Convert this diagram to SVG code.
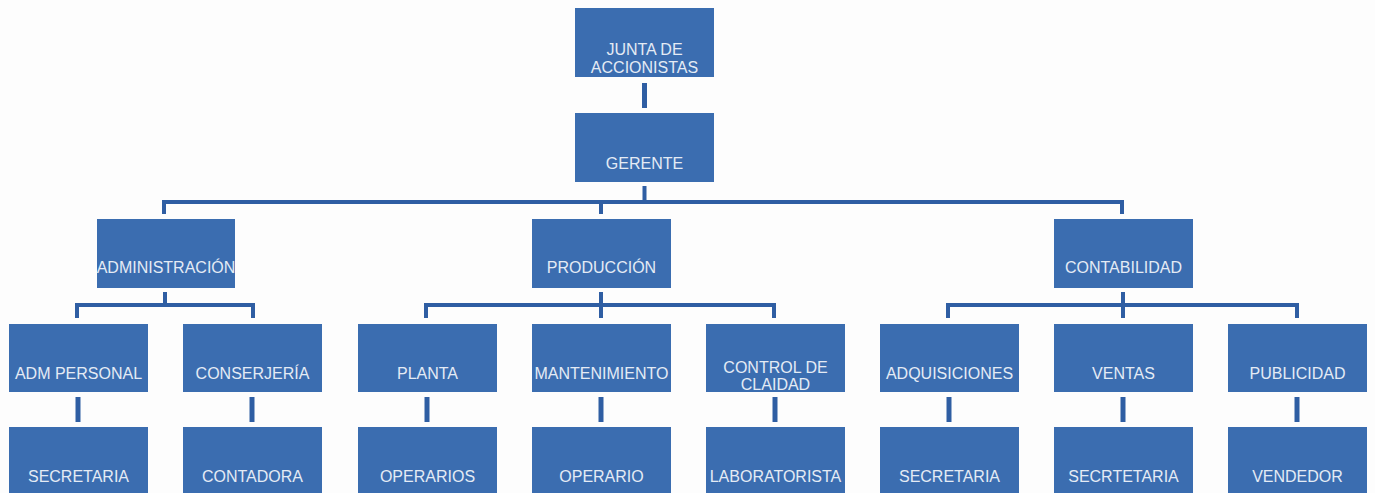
<svg xmlns="http://www.w3.org/2000/svg" width="1375" height="493" viewBox="0 0 1375 493">
<style>
.box{fill:#3b6db0}
.t{font-family:"Liberation Sans",Arial,sans-serif;font-size:16px;fill:#e4ebf5;text-anchor:middle}
.c{stroke:#2f5ea3;fill:none;stroke-width:4;stroke-linecap:butt;stroke-linejoin:miter}
.v{stroke:#2f5ea3;fill:none;stroke-width:5}
</style>
<rect width="1375" height="493" fill="#fdfdfd"/>
<g id="connectors">
<line class="v" x1="644.5" y1="83" x2="644.5" y2="108"/>
<path class="c" d="M644.5 186 V202 M164 214 V202 H1122 V214 M601 202 V214"/>
<path class="c" d="M165 292 V305 M77 318 V305 H253 V318"/>
<path class="c" d="M601 292 V318 M426 318 V305 H774 V318"/>
<path class="c" d="M1123 292 V318 M948 318 V305 H1297 V318"/>
<line class="v" x1="78" y1="397" x2="78" y2="422"/>
<line class="v" x1="252" y1="397" x2="252" y2="422"/>
<line class="v" x1="427" y1="397" x2="427" y2="422"/>
<line class="v" x1="601" y1="397" x2="601" y2="422"/>
<line class="v" x1="775" y1="397" x2="775" y2="422"/>
<line class="v" x1="949" y1="397" x2="949" y2="422"/>
<line class="v" x1="1123" y1="397" x2="1123" y2="422"/>
<line class="v" x1="1297" y1="397" x2="1297" y2="422"/>
</g>
<g id="junta"><rect class="box" x="575" y="8" width="139" height="69"/><text class="t" x="644.5" y="55">JUNTA DE</text><text class="t" x="644.5" y="73">ACCIONISTAS</text></g>
<g id="gerente"><rect class="box" x="575" y="113" width="139" height="69"/><text class="t" x="644.5" y="169">GERENTE</text></g>
<g id="administracion"><rect class="box" x="97" y="219" width="138" height="69"/><text class="t" x="166" y="273">ADMINISTRACIÓN</text></g>
<g id="produccion"><rect class="box" x="532" y="219" width="139" height="69"/><text class="t" x="601.5" y="273">PRODUCCIÓN</text></g>
<g id="contabilidad"><rect class="box" x="1054" y="219" width="139" height="69"/><text class="t" x="1123.5" y="273">CONTABILIDAD</text></g>
<g id="adm-personal"><rect class="box" x="9" y="324" width="139" height="68"/><text class="t" x="78.5" y="379">ADM PERSONAL</text></g>
<g id="conserjeria"><rect class="box" x="183" y="324" width="139" height="68"/><text class="t" x="252.5" y="379">CONSERJERÍA</text></g>
<g id="planta"><rect class="box" x="358" y="324" width="139" height="68"/><text class="t" x="427.5" y="379">PLANTA</text></g>
<g id="mantenimiento"><rect class="box" x="532" y="324" width="139" height="68"/><text class="t" x="601.5" y="379">MANTENIMIENTO</text></g>
<g id="control-calidad"><rect class="box" x="706" y="324" width="139" height="68"/><text class="t" x="775.5" y="373">CONTROL DE</text><text class="t" x="775.5" y="390">CLAIDAD</text></g>
<g id="adquisiciones"><rect class="box" x="880" y="324" width="139" height="68"/><text class="t" x="949.5" y="379">ADQUISICIONES</text></g>
<g id="ventas"><rect class="box" x="1054" y="324" width="139" height="68"/><text class="t" x="1123.5" y="379">VENTAS</text></g>
<g id="publicidad"><rect class="box" x="1228" y="324" width="139" height="68"/><text class="t" x="1297.5" y="379">PUBLICIDAD</text></g>
<g id="secretaria1"><rect class="box" x="9" y="427" width="139" height="66"/><text class="t" x="78.5" y="482">SECRETARIA</text></g>
<g id="contadora"><rect class="box" x="183" y="427" width="139" height="66"/><text class="t" x="252.5" y="482">CONTADORA</text></g>
<g id="operarios"><rect class="box" x="358" y="427" width="139" height="66"/><text class="t" x="427.5" y="482">OPERARIOS</text></g>
<g id="operario"><rect class="box" x="532" y="427" width="139" height="66"/><text class="t" x="601.5" y="482">OPERARIO</text></g>
<g id="laboratorista"><rect class="box" x="706" y="427" width="139" height="66"/><text class="t" x="775.5" y="482">LABORATORISTA</text></g>
<g id="secretaria2"><rect class="box" x="880" y="427" width="139" height="66"/><text class="t" x="949.5" y="482">SECRETARIA</text></g>
<g id="secretetaria"><rect class="box" x="1054" y="427" width="139" height="66"/><text class="t" x="1123.5" y="482">SECRTETARIA</text></g>
<g id="vendedor"><rect class="box" x="1228" y="427" width="139" height="66"/><text class="t" x="1297.5" y="482">VENDEDOR</text></g>
</svg>
